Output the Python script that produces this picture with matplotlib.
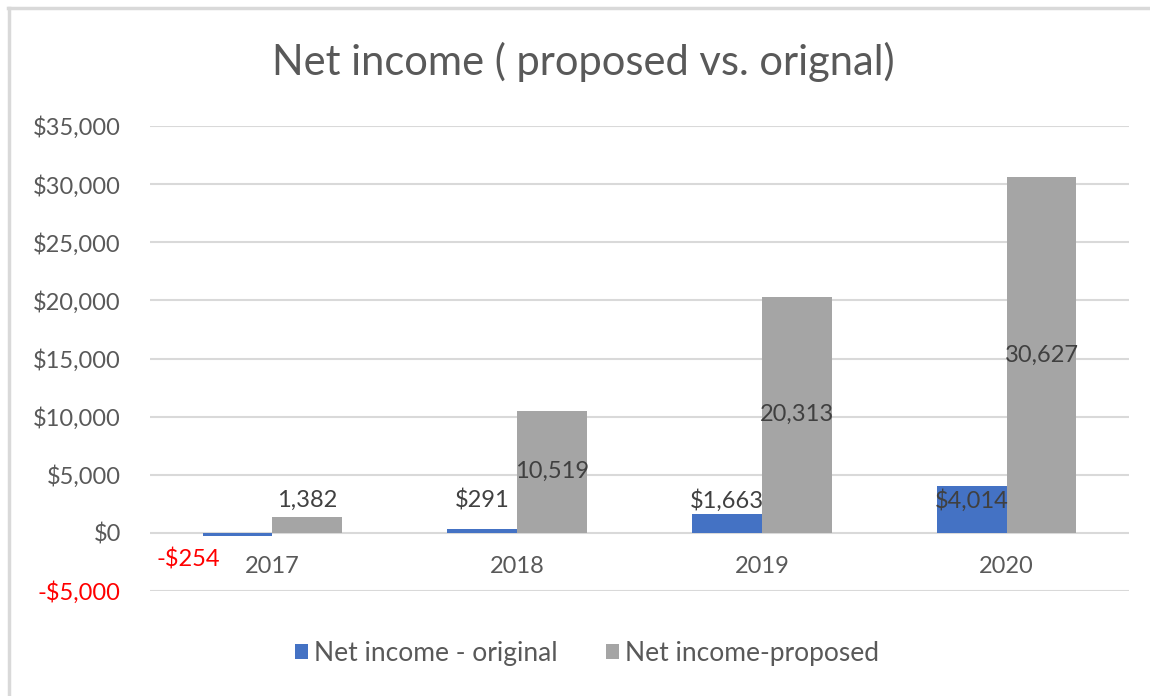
import matplotlib
matplotlib.use("Agg")
import matplotlib.pyplot as plt
from matplotlib.lines import Line2D
from matplotlib.patches import Patch
import numpy as np

plt.rcParams['font.family'] = ['Lato', 'DejaVu Sans']

years = ["2017", "2018", "2019", "2020"]
original = [-254, 291, 1663, 4014]
proposed = [1382, 10519, 20313, 30627]
original_labels = ["-$254", "$291", "$1,663", "$4,014"]
proposed_labels = ["1,382", "10,519", "20,313", "30,627"]
y_ticks = [-5000, 0, 5000, 10000, 15000, 20000, 25000, 30000, 35000]
series_names = ["Net income - original", "Net income-proposed"]
title = "Net income ( proposed vs. orignal)"

BLUE = "#4472C4"
GRAY = "#A5A5A5"
GRID = "#D9D9D9"
TICK = "#595959"
LABEL = "#404040"
FS = 17

W, H = 1150, 696
fig = plt.figure(figsize=(W / 100, H / 100), dpi=100)
fig.patch.set_facecolor("white")

ax = fig.add_axes([150 / W, 1 - 591 / H, (1129 - 150) / W, (591 - 126) / H])
x = np.arange(len(years))
bw = 0.285
ax.bar(x - bw / 2, original, bw, color=BLUE, zorder=3)
ax.bar(x + bw / 2, proposed, bw, color=GRAY, zorder=3)

ax.set_xlim(-0.5, len(years) - 0.5)
ax.set_ylim(y_ticks[0], y_ticks[-1])
ax.set_yticks(y_ticks)
ax.set_yticklabels([("-$" if v < 0 else "$") + f"{abs(v):,}" for v in y_ticks])
for lbl, v in zip(ax.get_yticklabels(), y_ticks):
    lbl.set_color("red" if v < 0 else TICK)
ax.grid(axis="y", color=GRID, linewidth=1.5, zorder=0)
for s in ax.spines.values():
    s.set_visible(False)
ax.spines["bottom"].set_position(("data", 0))
ax.tick_params(axis="y", length=0, labelsize=FS, pad=21)
ax.set_xticks(x)
ax.set_xticklabels(years)
ax.tick_params(axis="x", length=0, labelsize=FS, colors=TICK, pad=17)

# data labels
for i, (v, t) in enumerate(zip(original, original_labels)):
    if v < 0:
        ax.text(x[i] - bw * 1.2, -2300, t, ha="center", va="center",
                fontsize=FS, color="red", zorder=5)
    else:
        ax.text(x[i] - bw / 2, 2750, t, ha="center", va="center",
                fontsize=FS, color=LABEL, zorder=5)
for i, (v, t) in enumerate(zip(proposed, proposed_labels)):
    if v > 5000:
        ax.text(x[i] + bw / 2, v / 2, t, ha="center", va="center",
                fontsize=FS, color=LABEL, zorder=5)
    else:
        ax.text(x[i] + bw / 2, v + 1450, t, ha="center", va="center",
                fontsize=FS, color=LABEL, zorder=5)

fig.text(583 / W, 1 - 62 / H, title, ha="center", va="center",
         fontsize=30, color=TICK)

handles = [Patch(facecolor=BLUE), Patch(facecolor=GRAY)]
fig.legend(handles, series_names, loc="center", bbox_to_anchor=(587 / W, 1 - 653 / H),
           ncol=2, frameon=False, fontsize=19, labelcolor=TICK,
           handlelength=0.5, handleheight=0.5, handletextpad=0.25, columnspacing=1.8)

# chart border (top and left visible)
fig.add_artist(Line2D([9 / W, 9 / W], [0, 1 - 8 / H], transform=fig.transFigure,
                      color=GRID, linewidth=2.5))
fig.add_artist(Line2D([8 / W, 1], [1 - 8 / H, 1 - 8 / H], transform=fig.transFigure,
                      color=GRID, linewidth=2.5))

fig.savefig("out.png", dpi=100, facecolor="white")
